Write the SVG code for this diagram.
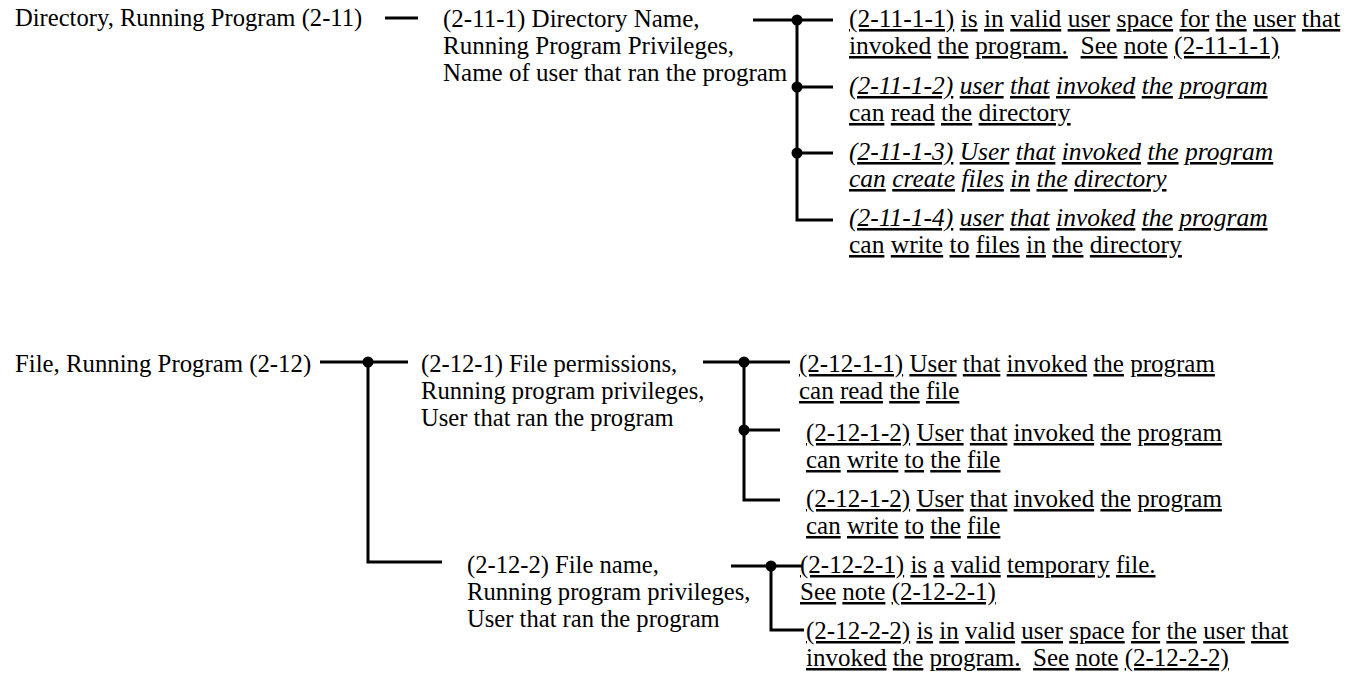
<svg xmlns="http://www.w3.org/2000/svg" width="1348" height="676" viewBox="0 0 1348 676">
<style>
text{font-family:"Liberation Serif","Times New Roman",serif;font-size:24.6px;fill:#000;white-space:pre}
.i{font-style:italic}
.u{text-decoration:underline}
.lt{font-size:25.5px}
.lb{font-size:25px}
.n1{font-size:25px}
.c line,.c path{stroke:#000;stroke-width:3;fill:none}
.c circle{fill:#000}
</style>
<rect width="1348" height="676" fill="#fff"/>
<g class="c" id="connectors">
<line x1="385" y1="18" x2="418" y2="18"/>
<line x1="753" y1="20" x2="833" y2="20"/>
<path d="M797 20V220H833M797 87H833M797 153H833"/>
<circle cx="797" cy="20" r="5.5"/><circle cx="797" cy="87" r="5.5"/><circle cx="797" cy="153" r="5.5"/>
<line x1="320" y1="362" x2="408" y2="362"/>
<path d="M368 362V562H442"/>
<circle cx="368" cy="362" r="5.5"/>
<line x1="703" y1="362" x2="790" y2="362"/>
<path d="M744 362V500H780M744 430H780"/>
<circle cx="744" cy="362" r="5.5"/><circle cx="744" cy="430" r="5.5"/>
<line x1="731" y1="566" x2="802" y2="566"/>
<path d="M771 566V630H804"/>
<circle cx="771" cy="566" r="5.5"/>
</g>
<g id="n2-11"><text x="15" y="26">Directory, Running Program (2-11)</text></g>
<g id="n2-11-1">
<text x="443" y="27" class="n1">(2-11-1) Directory Name,</text>
<text x="443" y="54" class="n1">Running Program Privileges,</text>
<text x="443" y="81" class="n1">Name of user that ran the program</text>
</g>
<g id="n2-11-1-1">
<text x="849" y="27" class="lt"><tspan class="u">(2-11-1-1)</tspan> <tspan class="u">is</tspan> <tspan class="u">in</tspan> <tspan class="u">valid</tspan> <tspan class="u">user</tspan> <tspan class="u">space</tspan> <tspan class="u">for</tspan> <tspan class="u">the</tspan> <tspan class="u">user</tspan> <tspan class="u">that</tspan></text>
<text x="849" y="54" class="lt"><tspan class="u">invoked</tspan> <tspan class="u">the</tspan> <tspan class="u">program.</tspan>  <tspan class="u">See</tspan> <tspan class="u">note</tspan> <tspan class="u">(2-11-1-1)</tspan></text>
</g>
<g id="n2-11-1-2">
<text x="849" y="94" class="lt i"><tspan class="u">(2-11-1-2)</tspan> <tspan class="u">user</tspan> <tspan class="u">that</tspan> <tspan class="u">invoked</tspan> <tspan class="u">the</tspan> <tspan class="u">program</tspan></text>
<text x="849" y="121" class="lt"><tspan class="u">can</tspan> <tspan class="u">read</tspan> <tspan class="u">the</tspan> <tspan class="u">directory</tspan></text>
</g>
<g id="n2-11-1-3">
<text x="849" y="160" class="lt i"><tspan class="u">(2-11-1-3)</tspan> <tspan class="u">User</tspan> <tspan class="u">that</tspan> <tspan class="u">invoked</tspan> <tspan class="u">the</tspan> <tspan class="u">program</tspan></text>
<text x="849" y="187" class="lt i"><tspan class="u">can</tspan> <tspan class="u">create</tspan> <tspan class="u">files</tspan> <tspan class="u">in</tspan> <tspan class="u">the</tspan> <tspan class="u">directory</tspan></text>
</g>
<g id="n2-11-1-4">
<text x="849" y="226" class="lt i"><tspan class="u">(2-11-1-4)</tspan> <tspan class="u">user</tspan> <tspan class="u">that</tspan> <tspan class="u">invoked</tspan> <tspan class="u">the</tspan> <tspan class="u">program</tspan></text>
<text x="849" y="253" class="lt"><tspan class="u">can</tspan> <tspan class="u">write</tspan> <tspan class="u">to</tspan> <tspan class="u">files</tspan> <tspan class="u">in</tspan> <tspan class="u">the</tspan> <tspan class="u">directory</tspan></text>
</g>
<g id="n2-12"><text x="15" y="372" style="font-size:24.8px">File, Running Program (2-12)</text></g>
<g id="n2-12-1">
<text x="421" y="372">(2-12-1) File permissions,</text>
<text x="421" y="399">Running program privileges,</text>
<text x="421" y="426">User that ran the program</text>
</g>
<g id="n2-12-1-1">
<text x="799" y="372" class="lb"><tspan class="u">(2-12-1-1)</tspan> <tspan class="u">User</tspan> <tspan class="u">that</tspan> <tspan class="u">invoked</tspan> <tspan class="u">the</tspan> <tspan class="u">program</tspan></text>
<text x="799" y="399" class="lb"><tspan class="u">can</tspan> <tspan class="u">read</tspan> <tspan class="u">the</tspan> <tspan class="u">file</tspan></text>
</g>
<g id="n2-12-1-2">
<text x="806" y="441" class="lb"><tspan class="u">(2-12-1-2)</tspan> <tspan class="u">User</tspan> <tspan class="u">that</tspan> <tspan class="u">invoked</tspan> <tspan class="u">the</tspan> <tspan class="u">program</tspan></text>
<text x="806" y="468" class="lb"><tspan class="u">can</tspan> <tspan class="u">write</tspan> <tspan class="u">to</tspan> <tspan class="u">the</tspan> <tspan class="u">file</tspan></text>
</g>
<g id="n2-12-1-2b">
<text x="806" y="507" class="lb"><tspan class="u">(2-12-1-2)</tspan> <tspan class="u">User</tspan> <tspan class="u">that</tspan> <tspan class="u">invoked</tspan> <tspan class="u">the</tspan> <tspan class="u">program</tspan></text>
<text x="806" y="534" class="lb"><tspan class="u">can</tspan> <tspan class="u">write</tspan> <tspan class="u">to</tspan> <tspan class="u">the</tspan> <tspan class="u">file</tspan></text>
</g>
<g id="n2-12-2">
<text x="467" y="573">(2-12-2) File name,</text>
<text x="467" y="600">Running program privileges,</text>
<text x="467" y="627">User that ran the program</text>
</g>
<g id="n2-12-2-1">
<text x="800" y="573" class="lb"><tspan class="u">(2-12-2-1)</tspan> <tspan class="u">is</tspan> <tspan class="u">a</tspan> <tspan class="u">valid</tspan> <tspan class="u">temporary</tspan> <tspan class="u">file.</tspan></text>
<text x="800" y="600" class="lb"><tspan class="u">See</tspan> <tspan class="u">note</tspan> <tspan class="u">(2-12-2-1)</tspan></text>
</g>
<g id="n2-12-2-2">
<text x="806" y="639" class="lb"><tspan class="u">(2-12-2-2)</tspan> <tspan class="u">is</tspan> <tspan class="u">in</tspan> <tspan class="u">valid</tspan> <tspan class="u">user</tspan> <tspan class="u">space</tspan> <tspan class="u">for</tspan> <tspan class="u">the</tspan> <tspan class="u">user</tspan> <tspan class="u">that</tspan></text>
<text x="806" y="666" class="lb"><tspan class="u">invoked</tspan> <tspan class="u">the</tspan> <tspan class="u">program.</tspan>  <tspan class="u">See</tspan> <tspan class="u">note</tspan> <tspan class="u">(2-12-2-2)</tspan></text>
</g>
</svg>
